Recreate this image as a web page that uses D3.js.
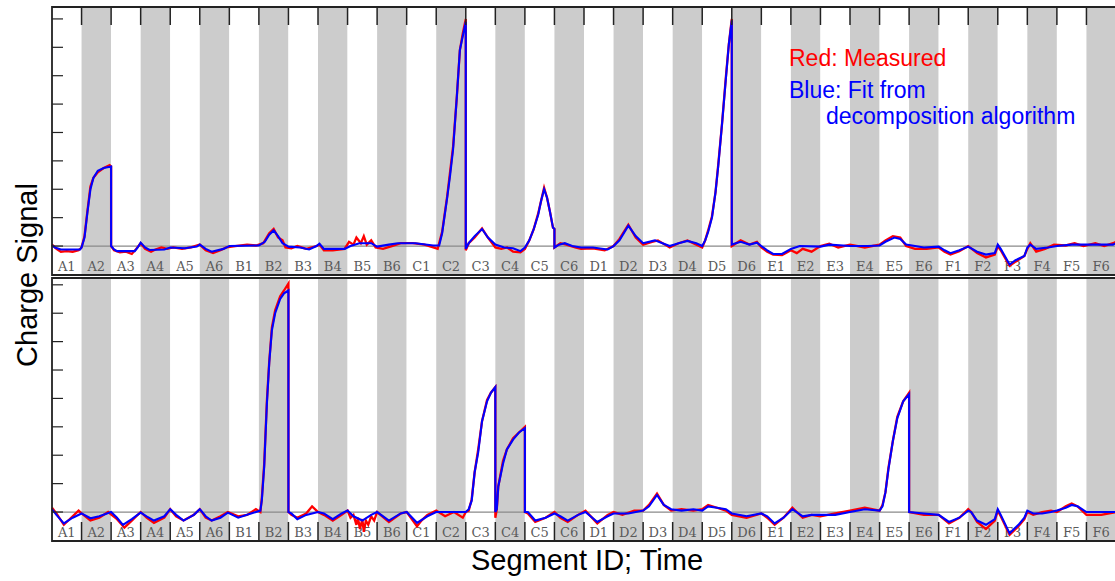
<!DOCTYPE html>
<html>
<head>
<meta charset="utf-8">
<script src="https://cdn.jsdelivr.net/npm/d3@7"></script>
<style>
  body { margin: 0; background: #fff; }
  svg { display: block; }
</style>
</head>
<body>
<svg id="chart" width="1115" height="581"></svg>
<script>
// segment ids along the time axis
const segments = ["A1","A2","A3","A4","A5","A6","B1","B2","B3","B4","B5","B6",
  "C1","C2","C3","C4","C5","C6","D1","D2","D3","D4","D5","D6",
  "E1","E2","E3","E4","E5","E6","F1","F2","F3","F4","F5","F6"];

const yTicks = [0, 1, 2, 3, 4, 5, 6, 7, 8];

// [time in segments, charge]
const topFit = [[0,0.02],[0.1,-0.05],[0.3,-0.12],[0.95,-0.12],[1.0,-0.05],[1.1,0.3],[1.2,1.2],[1.3,2.0],[1.4,2.4],[1.55,2.65],[1.75,2.75],[2.0,2.8],[2.0,0.0],[2.1,-0.12],[2.2,-0.18],[2.8,-0.18],[2.9,-0.05],[3.0,0.12],[3.15,-0.05],[3.3,-0.14],[3.8,-0.12],[4.0,-0.05],[4.5,-0.08],[4.9,-0.02],[5.0,0.05],[5.2,-0.1],[5.4,-0.2],[5.8,-0.1],[6.0,0.0],[7.0,0.02],[7.2,0.15],[7.35,0.4],[7.5,0.55],[7.65,0.35],[7.8,0.1],[8.0,-0.02],[8.4,-0.05],[8.7,-0.12],[8.95,0.0],[9.05,0.08],[9.2,-0.1],[9.9,-0.1],[10.1,0.0],[10.4,0.1],[10.8,0.1],[11.0,-0.02],[11.4,0.05],[11.7,0.1],[12.3,0.1],[12.9,0.02],[13.1,0.02],[13.2,0.45],[13.37,1.7],[13.47,2.5],[13.57,3.4],[13.7,5.3],[13.8,6.9],[13.9,7.4],[14.0,7.9],[14.0,-0.1],[14.1,0.1],[14.3,0.35],[14.55,0.6],[14.75,0.3],[15.0,0.05],[15.3,-0.05],[15.6,-0.08],[15.85,-0.18],[16.0,-0.05],[16.15,0.2],[16.3,0.6],[16.45,1.1],[16.55,1.6],[16.65,2.0],[16.75,1.7],[16.85,1.2],[16.95,0.65],[17.0,0.6],[17.0,-0.05],[17.15,0.05],[17.35,0.1],[17.6,0.0],[17.9,-0.05],[18.3,-0.05],[18.8,-0.12],[19.0,0.0],[19.2,0.2],[19.5,0.72],[19.75,0.35],[20.0,0.1],[20.4,0.2],[20.9,0.0],[21.2,0.1],[21.5,0.18],[21.8,0.1],[22.0,0.0],[22.1,0.2],[22.2,0.5],[22.33,1.0],[22.45,1.9],[22.54,2.8],[22.67,4.3],[22.8,5.9],[22.9,7.1],[23.0,7.95],[23.0,0.05],[23.3,0.15],[23.6,0.05],[23.85,0.12],[24.0,0.0],[24.2,-0.15],[24.4,-0.28],[24.7,-0.28],[25.0,-0.1],[25.3,0.0],[26.0,-0.02],[26.3,0.05],[27.0,0.0],[27.6,0.0],[28.0,0.02],[28.2,0.15],[28.5,0.3],[28.7,0.25],[28.9,0.05],[29.5,-0.05],[30.0,-0.02],[30.2,-0.15],[30.4,-0.25],[30.7,-0.15],[31.0,-0.02],[31.3,-0.2],[31.6,-0.3],[31.9,-0.25],[32.0,0.05],[32.1,-0.1],[32.4,-0.65],[32.6,-0.5],[32.9,-0.35],[33.0,-0.05],[33.1,0.05],[33.3,-0.1],[33.7,-0.05],[34.0,0.0],[34.5,0.05],[35.0,0.05],[35.5,0.05],[35.9,0.05],[36,0.1]];

const topMeasured = [[0,0.05],[0.15,-0.1],[0.3,-0.2],[0.5,-0.18],[0.7,-0.2],[0.9,-0.15],[1.0,-0.05],[1.1,0.35],[1.2,1.25],[1.3,2.1],[1.4,2.4],[1.55,2.6],[1.75,2.75],[1.95,2.85],[2.0,2.8],[2.0,0.0],[2.1,-0.15],[2.3,-0.22],[2.5,-0.2],[2.7,-0.28],[2.85,-0.1],[3.0,0.1],[3.15,-0.1],[3.35,-0.2],[3.5,-0.12],[3.7,-0.05],[3.9,-0.1],[4.1,-0.05],[4.4,-0.1],[4.7,-0.05],[5.0,0.05],[5.2,-0.15],[5.45,-0.25],[5.7,-0.15],[5.9,-0.05],[6.2,0.0],[6.6,0.05],[6.9,0.02],[7.15,0.1],[7.35,0.45],[7.5,0.6],[7.65,0.3],[7.8,0.2],[7.9,-0.05],[8.1,-0.08],[8.3,0.0],[8.6,-0.1],[8.95,0.0],[9.05,0.05],[9.2,-0.15],[9.5,-0.15],[9.9,-0.1],[10.05,0.15],[10.2,0.05],[10.3,0.3],[10.45,0.1],[10.55,0.35],[10.65,0.05],[10.8,0.2],[10.95,-0.05],[11.2,-0.1],[11.5,0.0],[11.8,0.1],[12.2,0.1],[12.6,0.05],[12.9,-0.05],[13.05,-0.1],[13.2,0.5],[13.37,1.75],[13.57,3.5],[13.7,5.3],[13.8,6.9],[13.9,7.5],[14.0,8.0],[14.0,-0.15],[14.1,0.1],[14.3,0.3],[14.55,0.62],[14.75,0.3],[15.0,-0.05],[15.2,-0.1],[15.4,-0.05],[15.6,-0.2],[15.85,-0.22],[16.0,-0.1],[16.15,0.2],[16.3,0.6],[16.45,1.15],[16.55,1.6],[16.65,2.05],[16.75,1.7],[16.85,1.2],[16.95,0.65],[17.0,0.6],[17.0,-0.05],[17.2,0.1],[17.4,0.05],[17.7,-0.05],[17.9,-0.1],[18.3,-0.08],[18.7,-0.15],[19.0,0.0],[19.2,0.25],[19.5,0.75],[19.75,0.3],[20.0,0.05],[20.3,0.15],[20.5,0.2],[20.9,-0.05],[21.2,0.1],[21.5,0.2],[21.8,0.05],[22.0,-0.05],[22.1,0.2],[22.2,0.55],[22.33,1.05],[22.45,1.9],[22.54,2.85],[22.67,4.3],[22.8,5.95],[22.9,7.1],[23.0,8.0],[23.0,0.0],[23.3,0.2],[23.6,0.05],[23.85,0.15],[24.0,-0.05],[24.2,-0.2],[24.4,-0.3],[24.7,-0.32],[25.0,-0.15],[25.2,-0.25],[25.4,-0.1],[25.7,-0.2],[26.0,0.0],[26.3,0.08],[26.6,-0.05],[27.0,0.05],[27.5,-0.05],[28.0,0.05],[28.2,0.2],[28.45,0.35],[28.7,0.3],[28.9,0.0],[29.2,-0.1],[29.6,-0.1],[30.0,-0.05],[30.2,-0.2],[30.4,-0.3],[30.7,-0.18],[31.0,0.0],[31.3,-0.25],[31.6,-0.4],[31.9,-0.3],[32.0,0.0],[32.1,-0.15],[32.4,-0.7],[32.6,-0.55],[32.9,-0.35],[33.0,-0.1],[33.1,0.1],[33.3,-0.2],[33.6,-0.1],[33.9,0.05],[34.3,0.02],[34.6,0.1],[34.9,0.0],[35.3,0.1],[35.6,0.0],[35.9,0.1],[36,0.15]];

const bottomFit = [[0,0.1],[0.15,-0.1],[0.4,-0.4],[0.7,-0.2],[1.0,-0.05],[1.3,-0.22],[1.6,-0.15],[2.0,0.0],[2.2,-0.2],[2.4,-0.45],[2.7,-0.25],[3.0,-0.02],[3.2,-0.15],[3.45,-0.3],[3.8,-0.15],[4.0,0.1],[4.2,-0.1],[4.45,-0.3],[4.8,-0.1],[5.0,0.1],[5.2,-0.15],[5.4,-0.3],[5.7,-0.2],[5.95,-0.02],[6.3,-0.2],[6.6,-0.1],[6.9,0.0],[7.05,0.05],[7.1,0.42],[7.18,1.6],[7.27,3.8],[7.35,5.25],[7.44,6.4],[7.55,7.0],[7.72,7.5],[7.85,7.7],[8.0,7.8],[8.0,0.0],[8.1,-0.05],[8.3,-0.25],[8.6,-0.1],[9.0,0.0],[9.2,-0.05],[9.5,-0.25],[9.8,-0.05],[10.0,0.05],[10.2,-0.15],[10.5,-0.3],[10.8,-0.1],[11.0,0.0],[11.4,-0.3],[11.8,-0.05],[12.0,0.0],[12.35,-0.38],[12.7,-0.15],[13.0,0.0],[13.5,0.0],[14.0,0.0],[14.1,0.1],[14.2,0.4],[14.3,1.4],[14.42,2.1],[14.55,3.2],[14.72,3.9],[14.85,4.2],[15.0,4.4],[15.0,0.0],[15.05,0.1],[15.1,0.9],[15.26,1.7],[15.39,2.2],[15.6,2.55],[15.8,2.8],[16.0,2.95],[16.0,0.0],[16.1,0.0],[16.35,-0.3],[16.7,-0.2],[17.0,-0.05],[17.2,-0.15],[17.45,-0.3],[17.8,-0.1],[18.05,0.0],[18.45,-0.35],[18.8,-0.15],[19.0,-0.05],[19.5,-0.05],[20.0,0.05],[20.2,0.2],[20.47,0.6],[20.7,0.25],[20.95,0.1],[21.3,0.05],[21.7,0.1],[22.0,0.05],[22.2,0.2],[22.5,0.15],[22.8,0.1],[23.0,-0.05],[23.5,-0.15],[24.0,-0.05],[24.2,-0.15],[24.45,-0.4],[24.75,-0.2],[25.05,0.1],[25.4,-0.15],[25.7,-0.1],[26.0,-0.1],[26.5,-0.1],[27.0,0.0],[27.5,0.1],[28.0,0.05],[28.1,0.2],[28.2,0.7],[28.3,1.5],[28.45,2.5],[28.6,3.3],[28.8,3.9],[29.0,4.15],[29.0,0.0],[29.5,-0.05],[30.0,-0.1],[30.35,-0.35],[30.7,-0.2],[31.0,0.05],[31.1,0.0],[31.3,-0.3],[31.6,-0.45],[31.9,-0.25],[32.0,0.1],[32.1,-0.1],[32.4,-0.75],[32.7,-0.45],[32.9,-0.2],[33.0,0.05],[33.2,-0.05],[33.5,-0.05],[33.8,0.0],[34.0,0.05],[34.3,0.15],[34.5,0.25],[34.7,0.2],[35.0,0.0],[35.5,0.0],[36,0.0]];

const bottomMeasured = [[0,0.15],[0.15,-0.05],[0.4,-0.45],[0.7,-0.15],[0.9,0.05],[1.0,-0.05],[1.3,-0.3],[1.6,-0.2],[1.9,0.0],[2.2,-0.25],[2.45,-0.55],[2.7,-0.3],[3.0,0.0],[3.2,-0.2],[3.45,-0.38],[3.8,-0.2],[4.0,0.1],[4.2,-0.15],[4.45,-0.3],[4.8,-0.1],[5.0,0.1],[5.2,-0.2],[5.4,-0.3],[5.7,-0.15],[5.95,0.0],[6.3,-0.15],[6.6,-0.1],[6.9,0.1],[7.05,0.0],[7.1,0.5],[7.18,1.7],[7.27,3.9],[7.35,5.3],[7.44,6.5],[7.55,7.1],[7.72,7.6],[7.85,7.8],[8.0,8.05],[8.0,0.0],[8.1,-0.1],[8.3,-0.2],[8.6,-0.05],[8.8,0.2],[9.0,0.0],[9.2,-0.1],[9.5,-0.3],[9.8,-0.1],[10.0,0.05],[10.1,-0.2],[10.2,-0.1],[10.3,-0.45],[10.35,-0.2],[10.42,-0.6],[10.5,-0.25],[10.55,-0.7],[10.62,-0.3],[10.7,-0.45],[10.8,-0.15],[10.9,-0.3],[11.0,0.0],[11.4,-0.35],[11.8,-0.05],[12.0,0.0],[12.35,-0.5],[12.5,-0.3],[12.7,-0.1],[13.0,0.05],[13.3,-0.15],[13.6,0.0],[13.9,-0.2],[14.0,0.0],[14.1,0.05],[14.2,0.45],[14.3,1.4],[14.42,2.2],[14.55,3.2],[14.72,3.95],[14.85,4.2],[15.0,4.4],[15.0,-0.2],[15.05,0.1],[15.1,0.9],[15.26,1.8],[15.39,2.2],[15.6,2.6],[15.8,2.8],[16.0,3.0],[16.0,0.0],[16.1,-0.05],[16.35,-0.35],[16.7,-0.2],[17.0,0.0],[17.2,-0.2],[17.45,-0.35],[17.8,-0.1],[18.05,0.05],[18.45,-0.4],[18.8,-0.1],[19.0,0.0],[19.3,-0.1],[19.7,0.05],[20.0,0.05],[20.2,0.25],[20.47,0.65],[20.7,0.25],[20.95,0.05],[21.3,0.1],[21.7,0.05],[22.0,0.1],[22.2,0.25],[22.5,0.15],[22.8,0.05],[23.0,-0.1],[23.5,-0.2],[24.0,-0.05],[24.2,-0.2],[24.45,-0.45],[24.75,-0.2],[25.05,0.15],[25.4,-0.2],[25.7,-0.1],[26.0,-0.15],[26.5,-0.05],[27.0,0.05],[27.5,0.15],[28.0,0.05],[28.1,0.25],[28.2,0.7],[28.3,1.55],[28.45,2.5],[28.6,3.35],[28.8,3.9],[29.0,4.2],[29.0,0.0],[29.5,-0.1],[30.0,-0.1],[30.35,-0.4],[30.7,-0.2],[31.0,0.1],[31.1,0.0],[31.3,-0.35],[31.6,-0.6],[31.9,-0.3],[32.0,0.05],[32.1,-0.15],[32.4,-0.8],[32.7,-0.5],[32.9,-0.25],[33.0,0.0],[33.2,-0.1],[33.5,0.0],[33.8,0.05],[34.0,0.0],[34.3,0.2],[34.5,0.3],[34.7,0.2],[35.0,-0.1],[35.5,-0.1],[36,0.0]];

const legendLines = [
  { text: "Red: Measured", color: "#ff0000", indent: 0 },
  { text: "Blue: Fit from", color: "#0000ff", indent: 0 },
  { text: "decomposition algorithm", color: "#0000ff", indent: 1 }
];

const svg = d3.select("#chart");
const left = 52, right = 1116;

const x = d3.scaleLinear().domain([0, segments.length]).range([left, right]);
const segW = x(1) - x(0);

const panels = [
  { fit: topFit, measured: topMeasured, top: 7, bottom: 275, domain: [-1.02, 8.42], ticksAt: "top" },
  { fit: bottomFit, measured: bottomMeasured, top: 278, bottom: 541, domain: [-1.02, 8.24], ticksAt: "bottom" }
];

panels.forEach((p, pi) => {
  const y = d3.scaleLinear().domain(p.domain).range([p.bottom, p.top]);
  const g = svg.append("g");

  // alternating stripes
  g.selectAll("rect.stripe")
    .data(segments)
    .join("rect")
    .attr("class", "stripe")
    .attr("x", (d, i) => x(i))
    .attr("y", p.top)
    .attr("width", segW)
    .attr("height", p.bottom - p.top)
    .attr("fill", (d, i) => i % 2 ? "#cccccc" : "#ffffff");

  // zero line
  g.append("line")
    .attr("x1", left).attr("x2", right)
    .attr("y1", y(0)).attr("y2", y(0))
    .attr("stroke", "#8a8a8a").attr("stroke-width", 1.2);

  // segment labels
  g.selectAll("text.seg")
    .data(segments)
    .join("text")
    .attr("class", "seg")
    .attr("x", (d, i) => x(i + 0.5))
    .attr("y", y(-0.72) + 5)
    .attr("text-anchor", "middle")
    .attr("font-family", "'DejaVu Serif', 'Liberation Serif', serif")
    .attr("font-size", 13)
    .attr("fill", "#5a5a5a")
    .text(d => d);

  const line = d3.line().x(d => x(d[0])).y(d => y(d[1]));

  g.append("path")
    .attr("d", line(p.measured))
    .attr("fill", "none")
    .attr("stroke", "#ff0000")
    .attr("stroke-width", 2.3);

  g.append("path")
    .attr("d", line(p.fit))
    .attr("fill", "none")
    .attr("stroke", "#0000ff")
    .attr("stroke-width", 2.1);

  // y ticks (inward)
  g.selectAll("line.ytick")
    .data(yTicks)
    .join("line")
    .attr("class", "ytick")
    .attr("x1", left).attr("x2", left + 11)
    .attr("y1", d => y(d)).attr("y2", d => y(d))
    .attr("stroke", "#222").attr("stroke-width", 1.2);

  // segment boundary ticks
  const bounds = d3.range(1, segments.length);
  g.selectAll("line.xtick")
    .data(bounds)
    .join("line")
    .attr("class", "xtick")
    .attr("x1", d => x(d)).attr("x2", d => x(d))
    .attr("y1", p.ticksAt === "top" ? p.top : p.bottom)
    .attr("y2", p.ticksAt === "top" ? p.top + 18 : p.bottom - 19)
    .attr("stroke", "#222").attr("stroke-width", 1.5);

  // frame
  g.append("path")
    .attr("d", `M${right},${p.top}H${left}V${p.bottom}H${right}`)
    .attr("fill", "none")
    .attr("stroke", "#222")
    .attr("stroke-width", 1.8);
});

// legend
svg.append("g")
  .selectAll("text")
  .data(legendLines)
  .join("text")
  .attr("x", d => 789 + d.indent * 37)
  .attr("y", (d, i) => 66 + i * 32 + (i === 2 ? -6 : 0))
  .attr("font-family", "'Liberation Sans', Arial, sans-serif")
  .attr("font-size", 23)
  .attr("fill", d => d.color)
  .text(d => d.text);

// axis titles
svg.append("text")
  .attr("transform", "translate(37,275) rotate(-90)")
  .attr("text-anchor", "middle")
  .attr("font-family", "'Liberation Sans', Arial, sans-serif")
  .attr("font-size", 29)
  .attr("fill", "#000")
  .text("Charge Signal");

svg.append("text")
  .attr("x", 587)
  .attr("y", 570)
  .attr("text-anchor", "middle")
  .attr("font-family", "'Liberation Sans', Arial, sans-serif")
  .attr("font-size", 29)
  .attr("fill", "#000")
  .text("Segment ID; Time");
</script>
</body>
</html>
